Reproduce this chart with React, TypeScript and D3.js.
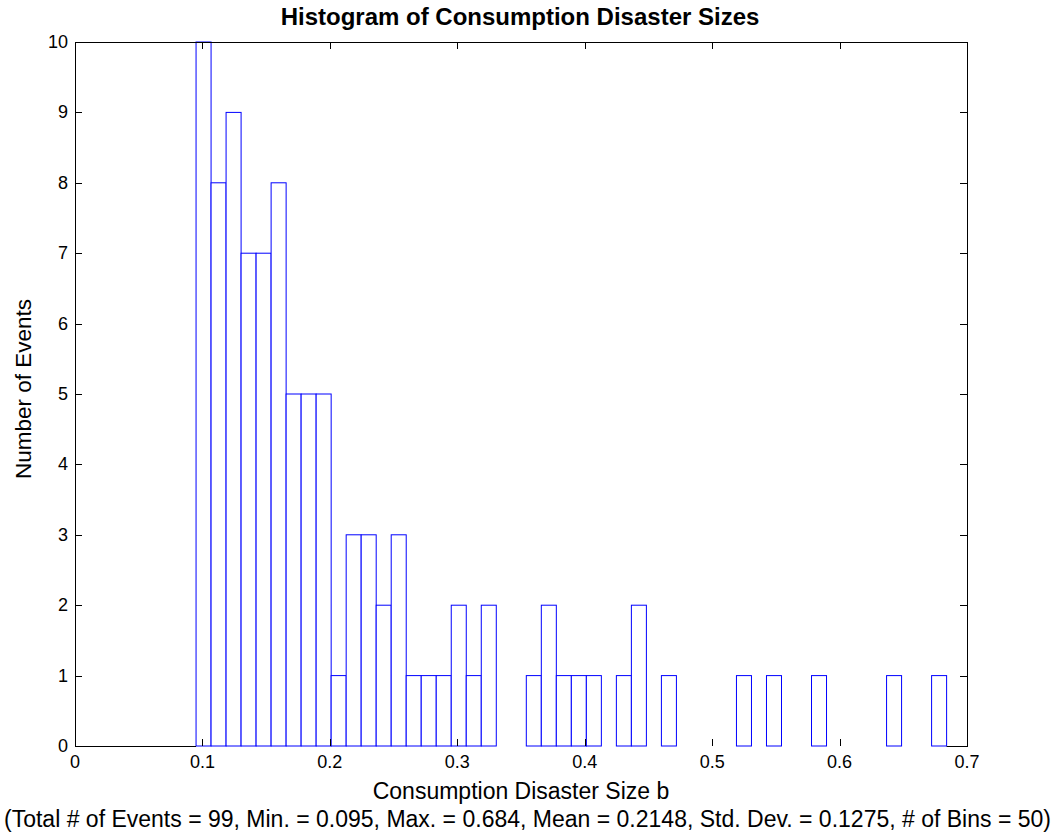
import React from "react";
import * as d3 from "d3";

const counts = [10, 8, 9, 7, 7, 8, 5, 5, 5, 1, 3, 3, 2, 3, 1, 1, 1, 2, 1, 2, 0, 0, 1, 2, 1, 1, 1, 0, 1, 2, 0, 1, 0, 0, 0, 0, 1, 0, 1, 0, 0, 1, 0, 0, 0, 0, 1, 0, 0, 1];
const minVal = 0.095;
const maxVal = 0.684;
const xTicks = [0, 0.1, 0.2, 0.3, 0.4, 0.5, 0.6, 0.7];
const yTicks = [0, 1, 2, 3, 4, 5, 6, 7, 8, 9, 10];
const title = "Histogram of Consumption Disaster Sizes";
const xLabel = "Consumption Disaster Size b";
const yLabel = "Number of Events";
const note = "(Total # of Events = 99, Min. = 0.095, Max. = 0.684, Mean = 0.2148, Std. Dev. = 0.1275, # of Bins = 50)";

export default function App() {
  const W = 1055, H = 836;
  const left = 75, right = 967, top = 42, bottom = 746;
  const x = d3.scaleLinear().domain([0, 0.7]).range([left, right]);
  const y = d3.scaleLinear().domain([0, 10]).range([bottom, top]);
  const bw = (maxVal - minVal) / counts.length;
  const font = "Liberation Sans, Arial, sans-serif";
  const tl = 7;
  return (
    <svg width={W} height={H} style={{ position: "absolute", left: 0, top: 0, background: "#fff" }} fontFamily={font}>
      <rect x={0} y={0} width={W} height={H} fill="#fff" />
      {counts.map((c, i) => {
        const x0 = x(minVal + i * bw);
        const x1 = x(minVal + (i + 1) * bw);
        return (
          <rect key={i} x={x0} y={y(c)} width={x1 - x0} height={y(0) - y(c)} fill="#fff" stroke="#0000ff" strokeWidth={1} />
        );
      })}
      <line x1={left} x2={x(minVal)} y1={bottom + 0.5} y2={bottom + 0.5} stroke="#000" />
      <line x1={x(maxVal)} x2={right} y1={bottom + 0.5} y2={bottom + 0.5} stroke="#000" />
      <line x1={left} x2={right} y1={top + 0.5} y2={top + 0.5} stroke="#000" />
      <line x1={left + 0.5} x2={left + 0.5} y1={top} y2={bottom + 1} stroke="#000" />
      <line x1={right + 0.5} x2={right + 0.5} y1={top} y2={bottom + 1} stroke="#000" />
      {xTicks.map((t) => (
        <g key={"x" + t}>
          <line x1={Math.round(x(t)) + 0.5} x2={Math.round(x(t)) + 0.5} y1={bottom} y2={bottom - tl} stroke="#000" />
          <line x1={Math.round(x(t)) + 0.5} x2={Math.round(x(t)) + 0.5} y1={top} y2={top + tl} stroke="#000" />
          <text x={x(t)} y={bottom + 22} textAnchor="middle" fontSize={18}>{String(t)}</text>
        </g>
      ))}
      {yTicks.map((t) => (
        <g key={"y" + t}>
          <line x1={left} x2={left + tl} y1={Math.round(y(t)) + 0.5} y2={Math.round(y(t)) + 0.5} stroke="#000" />
          <line x1={right} x2={right - tl} y1={Math.round(y(t)) + 0.5} y2={Math.round(y(t)) + 0.5} stroke="#000" />
          <text x={left - 7} y={y(t) + 6} textAnchor="end" fontSize={18}>{String(t)}</text>
        </g>
      ))}
      <text x={(left + right) / 2 - 1} y={25} textAnchor="middle" fontSize={24} fontWeight="bold">{title}</text>
      <text x={(left + right) / 2} y={799} textAnchor="middle" fontSize={23}>{xLabel}</text>
      <text x={W / 2} y={827} textAnchor="middle" fontSize={23} textLength={1047} lengthAdjust="spacingAndGlyphs">{note}</text>
      <text transform={`translate(31, 389) rotate(-90)`} textAnchor="middle" fontSize={22.5}>{yLabel}</text>
    </svg>
  );
}
